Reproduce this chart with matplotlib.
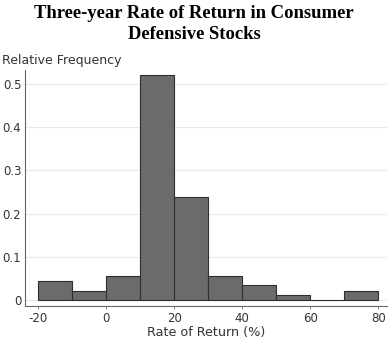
import matplotlib
matplotlib.use("Agg")
import matplotlib.pyplot as plt

plt.rcParams["axes.unicode_minus"] = False

# histogram bins (left edges, width 10) and relative frequencies
bin_left = [-20, -10, 0, 10, 20, 30, 40, 50, 60, 70]
rel_freq = [0.045, 0.022, 0.056, 0.52, 0.238, 0.056, 0.034, 0.011, 0.0, 0.022]
xticks = [-20, 0, 20, 40, 60, 80]
yticks = [0, 0.1, 0.2, 0.3, 0.4, 0.5]
ytick_labels = ["0", "0.1", "0.2", "0.3", "0.4", "0.5"]

fig = plt.figure(figsize=(3.88, 3.39), dpi=100)
ax = fig.add_axes([0.064, 0.097, 0.933, 0.697])

for y in yticks:
    ax.axhline(y, color="#e8e8e8", lw=0.8, zorder=0)

ax.bar(bin_left, rel_freq, width=10, align="edge", color="#6b6b6b",
       edgecolor="#2e2e2e", linewidth=0.8, zorder=2)

ax.set_xlim(-23.9, 82.5)
ax.set_ylim(-0.014, 0.532)
ax.set_xticks(xticks)
ax.set_yticks(yticks)
ax.set_yticklabels(ytick_labels)
ax.tick_params(labelsize=8.5, colors="#333333")
ax.tick_params(axis="y", length=0, pad=2.5)
ax.tick_params(axis="x", length=2.5, width=0.6, pad=1.5, color="#666666")

for s in ["top", "right"]:
    ax.spines[s].set_visible(False)
for s in ["left", "bottom"]:
    ax.spines[s].set_color("#666666")
    ax.spines[s].set_linewidth(0.8)

ax.set_xlabel("Rate of Return (%)", fontsize=9.2, color="#333333", labelpad=1)
fig.text(0.005, 0.823, "Relative Frequency", fontsize=9, color="#333333",
         ha="left", va="center")
fig.text(0.5, 0.929, "Three-year Rate of Return in Consumer\nDefensive Stocks",
         fontsize=13.4, fontweight="bold", family="Liberation Serif",
         ha="center", va="center", linespacing=1.3)

fig.savefig("out.png", dpi=100)
